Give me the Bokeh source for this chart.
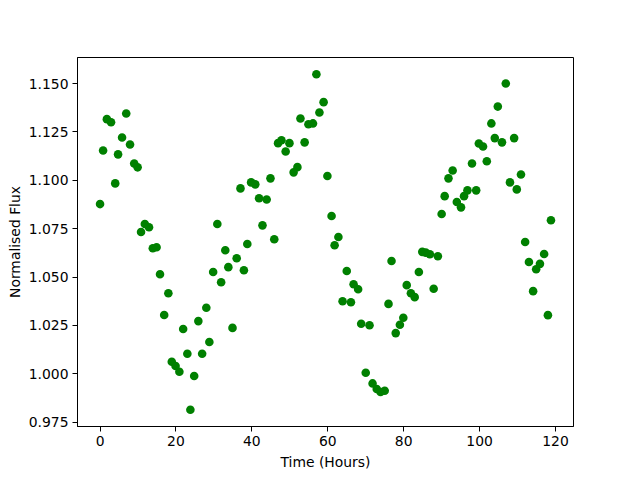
from bokeh.plotting import figure
from bokeh.models import Range1d, FixedTicker, NumeralTickFormatter, ColumnDataSource
from bokeh.embed import file_html
from bokeh.resources import INLINE

time_hours = [0.0, 0.8, 1.8, 2.9, 4.0, 4.75, 5.8, 6.9, 7.9, 9.0,
              9.9, 10.8, 11.8, 12.9, 13.9, 14.9, 15.8, 16.9, 18.0, 18.9,
              19.9, 20.9, 21.9, 23.0, 23.8, 24.8, 25.9, 26.9, 28.0, 28.8,
              29.8, 30.9, 31.9, 33.0, 33.8, 34.9, 36.0, 37.0, 37.9, 38.8,
              39.8, 40.9, 41.9, 42.8, 43.9, 44.9, 45.9, 46.9, 47.8, 48.9,
              49.9, 51.0, 52.0, 52.8, 53.9, 54.9, 56.1, 57.0, 57.8, 58.9,
              59.9, 61.0, 61.8, 62.8, 63.9, 65.0, 66.1, 66.8, 68.0, 68.8,
              70.0, 71.0, 71.8, 72.9, 73.9, 75.0, 76.0, 76.8, 77.9, 79.0,
              79.9, 80.8, 81.9, 82.9, 84.0, 84.9, 85.8, 86.9, 87.9, 89.0,
              90.0, 90.8, 91.8, 92.9, 94.0, 95.1, 95.9, 96.8, 98.0, 99.1,
              99.8, 100.9, 101.9, 103.1, 104.0, 104.8, 105.9, 106.9, 108.0, 109.1,
              109.8, 110.9, 112.0, 113.0, 114.1, 114.9, 115.9, 117.0, 118.0, 118.8]

flux = [1.0877, 1.1154, 1.1316, 1.1300, 1.0984, 1.1134, 1.1221, 1.1345, 1.1185, 1.1087,
        1.1067, 1.0733, 1.0774, 1.0757, 1.0649, 1.0654, 1.0514, 1.0304, 1.0416, 1.0062,
        1.0040, 1.0010, 1.0231, 1.0103, 0.9814, 0.9988, 1.0272, 1.0103, 1.0341, 1.0164,
        1.0526, 1.0774, 1.0473, 1.0638, 1.0551, 1.0237, 1.0597, 1.0958, 1.0535, 1.0671,
        1.0989, 1.0979, 1.0907, 1.0767, 1.0901, 1.1010, 1.0695, 1.1192, 1.1207, 1.1149,
        1.1192, 1.1041, 1.1068, 1.1319, 1.1196, 1.1290, 1.1294, 1.1548, 1.1350, 1.1404,
        1.1022, 1.0815, 1.0664, 1.0707, 1.0375, 1.0531, 1.0370, 1.0463, 1.0437, 1.0258,
        1.0005, 1.0251, 0.9950, 0.9921, 0.9906, 0.9912, 1.0361, 1.0583, 1.0210, 1.0253,
        1.0289, 1.0458, 1.0416, 1.0396, 1.0526, 1.0630, 1.0626, 1.0618, 1.0439, 1.0607,
        1.0826, 1.0918, 1.1010, 1.1051, 1.0888, 1.0860, 1.0918, 1.0948, 1.1087, 1.0948,
        1.1190, 1.1175, 1.1098, 1.1294, 1.1218, 1.1381, 1.1196, 1.1500, 1.0989, 1.1218,
        1.0953, 1.1030, 1.0681, 1.0578, 1.0427, 1.0540, 1.0568, 1.0619, 1.0303, 1.0793]

x_ticks = [0, 20, 40, 60, 80, 100, 120]
y_ticks = [0.975, 1.000, 1.025, 1.050, 1.075, 1.100, 1.125, 1.150]

xmin, xmax = min(time_hours), max(time_hours)
ymin, ymax = min(flux), max(flux)
xpad = (xmax - xmin) * 0.05
ypad = (ymax - ymin) * 0.05

p = figure(width=624, height=464, output_backend="svg", toolbar_location=None,
           x_range=Range1d(xmin - xpad, xmax + xpad),
           y_range=Range1d(ymin - ypad, ymax + ypad),
           frame_width=496, frame_height=369,
           min_border_left=77, min_border_right=51, min_border_top=57, min_border_bottom=38)

src = ColumnDataSource(dict(x=time_hours, y=flux))
p.scatter("x", "y", source=src, size=8.6, fill_color="#008000", line_color="#008000", line_width=0)

p.xgrid.visible = False
p.ygrid.visible = False
p.outline_line_color = "black"
p.outline_line_width = 1
p.outline_line_alpha = 1.0
p.background_fill_color = "white"
p.border_fill_color = "white"

p.xaxis.ticker = FixedTicker(ticks=x_ticks)
p.yaxis.ticker = FixedTicker(ticks=y_ticks)
p.yaxis.formatter = NumeralTickFormatter(format="0.000")
p.xaxis.axis_label = "Time (Hours)"
p.yaxis.axis_label = "Normalised Flux"

for ax in (p.xaxis, p.yaxis):
    ax.major_tick_out = 5
    ax.major_tick_in = 0
    ax.minor_tick_out = 0
    ax.minor_tick_in = 0
    ax.axis_line_color = "black"
    ax.major_tick_line_color = "black"
    ax.major_label_text_font = "DejaVu Sans"
    ax.major_label_text_font_size = "13.9px"
    ax.major_label_text_color = "black"
    ax.axis_label_text_font = "DejaVu Sans"
    ax.axis_label_text_font_size = "13.9px"
    ax.axis_label_text_font_style = "normal"
    ax.axis_label_text_color = "black"
    ax.major_label_standoff = 4
    ax.axis_label_standoff = 5

p.yaxis.axis_label_standoff = 3

open("out.html", "w").write(file_html(p, INLINE))
